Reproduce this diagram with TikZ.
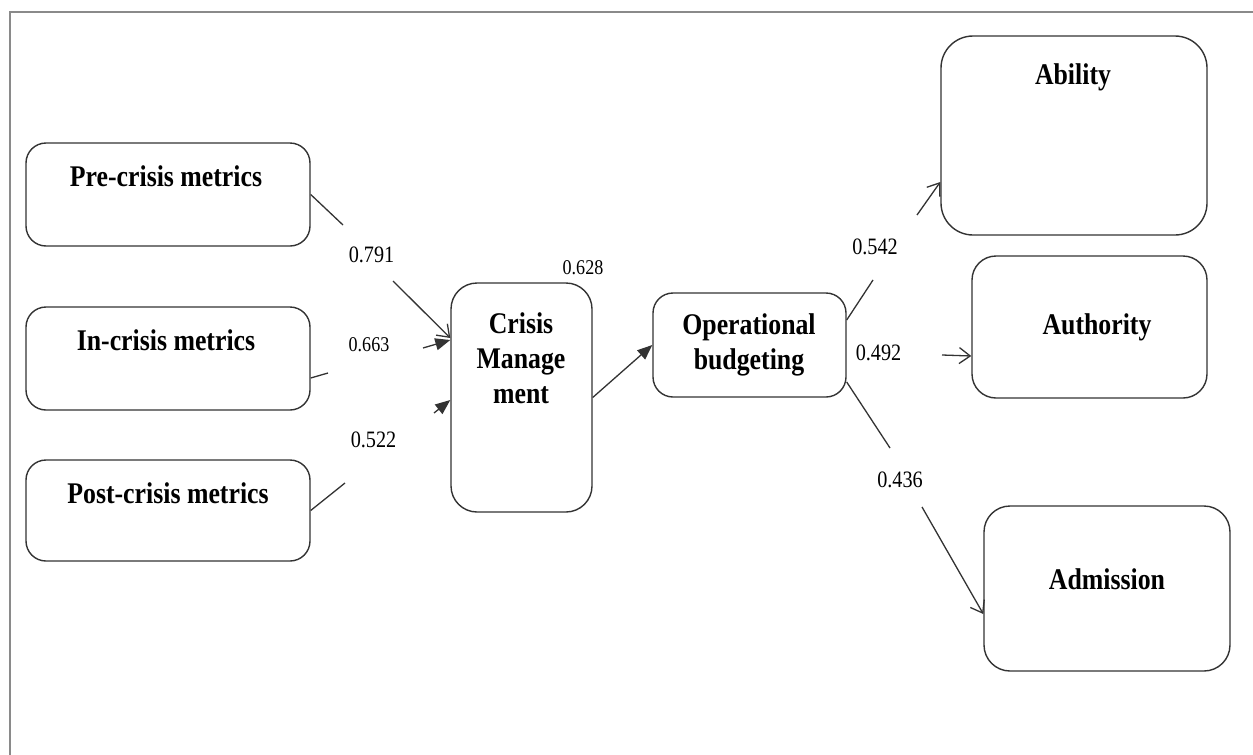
\documentclass[tikz,border=0pt]{standalone}
\usepackage{fontspec}
\setmainfont{Liberation Serif}
\newfontfamily\narrowserif{Liberation Serif}[FakeStretch=0.86]
\usetikzlibrary{arrows.meta}
\definecolor{edge}{HTML}{333333}
\definecolor{frameline}{HTML}{8A8A8A}
\tikzset{
  box/.style={draw=edge, line width=1.4pt, rounded corners=#1, inner sep=0pt},
  box/.default=20pt,
  title/.style={font=\narrowserif\bfseries\fontsize{30}{35}\selectfont, align=center, inner sep=0pt},
  coef/.style={font=\narrowserif\fontsize{23.5}{26}\selectfont, inner sep=0pt},
  coefsmall/.style={font=\narrowserif\fontsize{21}{24}\selectfont, inner sep=0pt},
  link/.style={draw=edge, line width=1.3pt},
  openhead/.style={link, -{Straight Barb[length=11pt,width=16pt,line width=1.3pt]}},
  fullhead/.style={link, -{Triangle[length=15pt,width=12pt]}}
}
\begin{document}
\begin{tikzpicture}[x=1pt,y=-1pt]
\useasboundingbox (0,0) rectangle (1253,755);
\begin{scope}
\clip (0,0) rectangle (1253,755);
\draw[frameline, line width=1.8pt] (10,12) rectangle (1270,775);
\end{scope}

% boxes
\node[box, minimum width=284pt, minimum height=103pt] (pre) at (168,194.5) {};
\node[box, minimum width=284pt, minimum height=103pt] (in) at (168,358.5) {};
\node[box, minimum width=284pt, minimum height=101pt] (post) at (168,510.5) {};
\node[box=26pt, minimum width=141pt, minimum height=229pt] (cm) at (521.5,397.5) {};
\node[box, minimum width=193pt, minimum height=104pt] (op) at (749.5,345) {};
\node[box=32pt, minimum width=266pt, minimum height=199pt] (ab) at (1074,135.5) {};
\node[box=24pt, minimum width=235pt, minimum height=142pt] (au) at (1089.5,327) {};
\node[box=26pt, minimum width=246pt, minimum height=165pt] (ad) at (1107,588.5) {};

% box texts
\node[title] (tpre) at (166,176) {Pre-crisis metrics};
\node[title] (tin) at (166,340) {In-crisis metrics};
\node[title] (tpost) at (168,493) {Post-crisis metrics};
\node[title] (tcm) at (521,358) {Crisis\\Manage\\ment};
\node[title] (top) at (749,345) {Operational\\budgeting};
\node[title] (tab) at (1073,77) {Ability};
\node[title] (tau) at (1097,327) {Authority};
\node[title] (tad) at (1107,579) {Admission};

% gaps left around the path coefficients
\coordinate (g1a) at (343,225);
\coordinate (g1b) at (393,281);
\coordinate (g2a) at (328,373);
\coordinate (g2b) at (423,348);
\coordinate (g3a) at (345,483);
\coordinate (g3b) at (434,413);
\coordinate (g5a) at (873,280);
\coordinate (g5b) at (917,215);
\coordinate (g6b) at (942,355);
\coordinate (g7a) at (890,448);
\coordinate (g7b) at (922,507);

% connectors
\draw[link] (pre.east) -- (g1a);
\draw[openhead] (g1b) -- ([yshift=59.5pt]cm.west);
\draw[link] ([yshift=-19.5pt]in.east) -- (g2a);
\draw[fullhead] (g2b) -- ([yshift=57.5pt]cm.west);
\draw[link] (post.east) -- (g3a);
\draw[fullhead] (g3b) -- ([yshift=-2.5pt]cm.west);
\draw[fullhead] (cm.east) -- (op.west);
\draw[link] ([yshift=25pt]op.east) -- (g5a);
\draw[openhead] (g5b) -- ([yshift=-46.5pt]ab.west);
\draw[openhead] (g6b) -- ([yshift=-29pt]au.west);
\draw[link] ([yshift=-37pt]op.east) -- (g7a);
\draw[openhead] (g7b) -- ([yshift=-25.5pt]ad.west);

% coefficients
\node[coef] (c1) at (371.5,255) {0.791};
\node[coefsmall] (c2) at (369,345) {0.663};
\node[coef] (c3) at (373.5,440) {0.522};
\node[coefsmall] (c4) at (583,268) {0.628};
\node[coef] (c5) at (875,247) {0.542};
\node[coef] (c6) at (878.5,353) {0.492};
\node[coef] (c7) at (900,480) {0.436};
\end{tikzpicture}
\end{document}
